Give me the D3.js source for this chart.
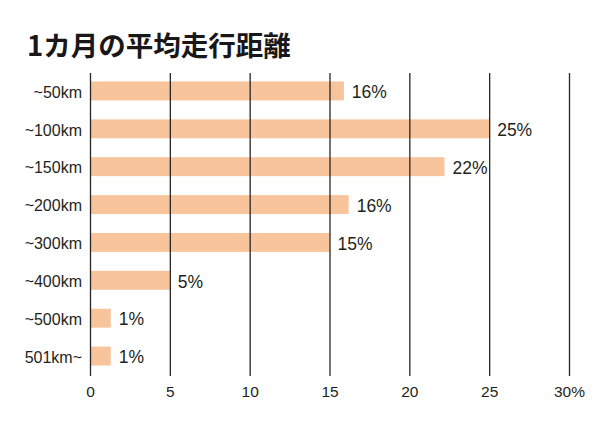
<!DOCTYPE html>
<html>
<head>
<meta charset="UTF-8">
<title>1カ月の平均走行距離</title>
<script src="https://cdn.jsdelivr.net/npm/d3@7"></script>
<style type="text/css">
	body {
		margin: 0;
		background-color: white;
	}
	text {
		font-family: "Liberation Sans", "Noto Sans CJK JP", sans-serif;
		fill: #231f20;
	}
</style>
</head>
<body>
<script type="text/javascript">

// catégories et valeurs
var categories = ['~50km', '~100km', '~150km', '~200km', '~300km', '~400km', '~500km', '501km~'];
var valeurs = [15.9, 25.0, 22.2, 16.2, 15.0, 5.0, 1.3, 1.3];
var etiquettes = ['16%', '25%', '22%', '16%', '15%', '5%', '1%', '1%'];
var ticks = [0, 5, 10, 15, 20, 25, 30];
var tickLabels = ['0', '5', '10', '15', '20', '25', '30%'];

var large = 600, haut = 426,
 marge = {top: 73, left: 90, right: 31, bottom: 50},
 cBarre = '#f7c49c', cGrille = '#2a2623';

var svg = d3.select('body').append('svg')
	.attr('width', large)
	.attr('height', haut);

// titre
svg.append('text')
	.attr('x', 27)
	.attr('y', 56)
	.style('font-family', '"Noto Sans CJK JP", sans-serif')
	.style('font-weight', 'bold')
	.style('font-size', '27.5px')
	.style('fill', '#1a1718')
	.text('1カ月の平均走行距離');

var x = d3.scaleLinear()
	.domain([0, 30])
	.range([marge.left, large - marge.right]);

var y = d3.scaleBand()
	.domain(categories)
	.range([marge.top, haut - marge.bottom])
	.paddingInner(0.5)
	.paddingOuter(0.25);

var donnees = categories.map(function(c, i){
	return {cat: c, val: valeurs[i], lab: etiquettes[i]};
});

// barres
svg.selectAll('.barre')
	.data(donnees).enter().append('rect')
	.attr('class', 'barre')
	.attr('x', x(0))
	.attr('y', function(d){ return y(d.cat) - 1; })
	.attr('width', function(d){ return x(d.val) - x(0); })
	.attr('height', y.bandwidth())
	.attr('fill', cBarre);

// grille verticale par-dessus les barres
var axe = d3.axisBottom(x)
	.tickValues(ticks)
	.tickSize(-(haut - marge.bottom - marge.top))
	.tickPadding(10)
	.tickFormat(function(d, i){ return tickLabels[i]; });

var gAxe = svg.append('g')
	.attr('transform', 'translate(0,' + (haut - marge.bottom) + ')')
	.call(axe);
gAxe.select('.domain').remove();
gAxe.selectAll('line')
	.attr('stroke', cGrille)
	.attr('stroke-width', 1.3);
gAxe.selectAll('text')
	.style('font-size', '15.5px')
	.attr('fill', '#231f20');

// étiquettes des catégories
svg.selectAll('.cat')
	.data(donnees).enter().append('text')
	.attr('class', 'cat')
	.attr('x', x(0) - 8)
	.attr('y', function(d){ return y(d.cat) + y.bandwidth() / 2; })
	.attr('dy', '0.36em')
	.attr('text-anchor', 'end')
	.style('font-size', '16px')
	.text(function(d){ return d.cat; });

// valeurs en pourcentage
svg.selectAll('.val')
	.data(donnees).enter().append('text')
	.attr('class', 'val')
	.attr('x', function(d){ return x(d.val) + 8; })
	.attr('y', function(d){ return y(d.cat) + y.bandwidth() / 2; })
	.attr('dy', '0.36em')
	.style('font-size', '17.5px')
	.text(function(d){ return d.lab; });

</script>
</body>
</html>
